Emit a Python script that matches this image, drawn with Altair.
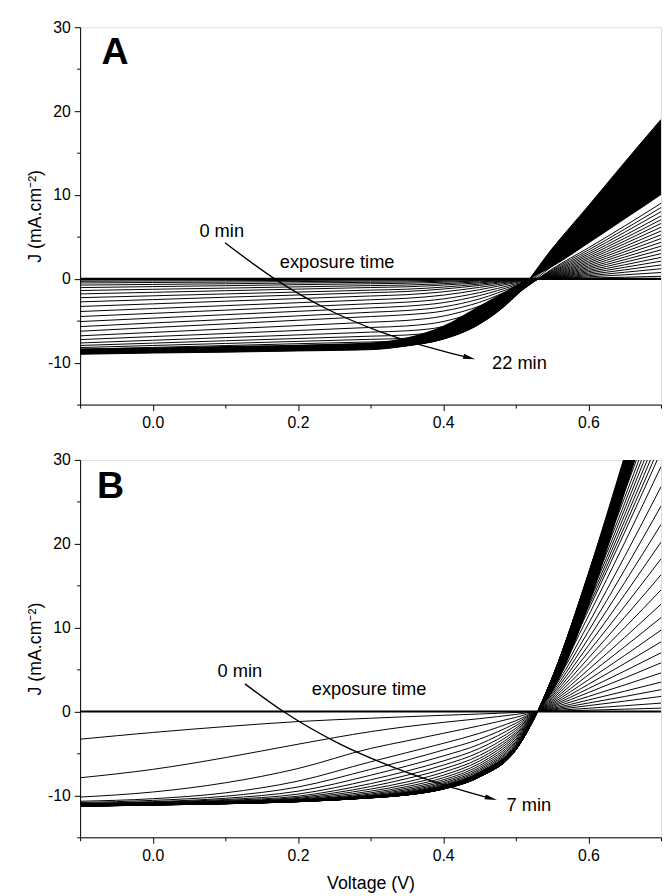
import altair as alt
import pandas as pd

FONT = "Liberation Sans"

# ---------------- Panel A (0 ... 22 min), curve 0 = 0 min, last = 22 min
A_V = [-0.1, 0.0, 0.1, 0.2, 0.3, 0.35, 0.4, 0.45, 0.5, 0.55, 0.6, 0.65, 0.7]
A_J_m010 = [0, -0.15, -0.3, -0.5, -0.75, -1.05, -1.4, -1.8, -2.25, -2.75, -3.3, -3.9, -4.5, -5.1, -5.7, -6.25, -6.8, -7.25, -7.65, -7.95, -8.2, -8.4, -8.55, -8.68, -8.78, -8.86, -8.93, -9.0]
A_J_000 = [0, -0.13, -0.26, -0.44, -0.67, -0.93, -1.25, -1.61, -2.03, -2.48, -2.99, -3.55, -4.12, -4.69, -5.27, -5.81, -6.39, -6.89, -7.33, -7.67, -7.95, -8.18, -8.35, -8.51, -8.62, -8.71, -8.79, -8.85]
A_J_010 = [0, -0.11, -0.23, -0.39, -0.59, -0.82, -1.11, -1.42, -1.80, -2.2, -2.67, -3.2, -3.74, -4.28, -4.85, -5.38, -5.98, -6.53, -7.01, -7.39, -7.71, -7.96, -8.16, -8.33, -8.46, -8.56, -8.64, -8.75]
A_J_020 = [0, -0.10, -0.19, -0.33, -0.50, -0.70, -0.96, -1.23, -1.58, -1.93, -2.36, -2.85, -3.35, -3.88, -4.42, -4.94, -5.58, -6.16, -6.69, -7.12, -7.46, -7.74, -7.96, -8.16, -8.31, -8.41, -8.5, -8.6]
A_J_030 = [0, -0.08, -0.16, -0.27, -0.42, -0.59, -0.81, -1.04, -1.35, -1.65, -2.05, -2.5, -2.97, -3.47, -3.99, -4.5, -5.17, -5.8, -6.36, -6.84, -7.22, -7.53, -7.76, -7.99, -8.15, -8.26, -8.36, -8.45]
A_J_035 = [0, -0.07, -0.14, -0.24, -0.38, -0.53, -0.74, -0.95, -1.24, -1.51, -1.89, -2.32, -2.78, -3.26, -3.78, -4.28, -4.96, -5.62, -6.2, -6.7, -7.09, -7.42, -7.66, -7.8, -7.9, -7.95, -7.98, -8.0]
A_J_040 = [0, -0.05, -0.10, -0.18, -0.29, -0.41, -0.58, -0.75, -0.99, -1.22, -1.55, -1.95, -2.4, -2.85, -3.35, -3.85, -4.45, -5.1, -5.7, -6.2, -6.55, -6.8, -6.95, -7.05, -7.1, -7.15, -7.18, -7.2]
A_J_045 = [0, -0.03, -0.06, -0.11, -0.18, -0.26, -0.37, -0.48, -0.63, -0.79, -1.02, -1.3, -1.65, -2.0, -2.4, -2.8, -3.25, -3.75, -4.2, -4.55, -4.8, -5.0, -5.1, -5.2, -5.3, -5.35, -5.38, -5.4]
A_J_050 = [0, -0.01, -0.02, -0.04, -0.06, -0.09, -0.12, -0.16, -0.21, -0.27, -0.35, -0.45, -0.6, -0.75, -0.9, -1.05, -1.25, -1.45, -1.65, -1.8, -1.9, -1.95, -1.98, -2.0, -2.0, -2.0, -2.0, -2.0]
A_J_055 = [0, 0.01, 0.03, 0.05, 0.08, 0.11, 0.14, 0.19, 0.23, 0.28, 0.34, 0.4, 0.46, 0.53, 0.6, 0.69, 0.77, 0.86, 0.95, 1.06, 1.17, 1.5, 1.9, 2.3, 2.7, 3.0, 3.3, 3.6]
A_J_060 = [0, 0.09, 0.23, 0.37, 0.52, 0.68, 0.84, 1.0, 1.18, 1.35, 1.53, 1.72, 1.91, 2.1, 2.31, 2.51, 2.73, 2.95, 3.18, 3.43, 3.69, 4.4, 5.2, 6.0, 6.8, 7.6, 8.2, 8.7]
A_J_065 = [0, 0.19, 0.48, 0.78, 1.07, 1.37, 1.67, 1.98, 2.28, 2.59, 2.91, 3.22, 3.54, 3.86, 4.19, 4.51, 4.84, 5.18, 5.55, 5.92, 6.3, 7.4, 8.5, 9.7, 10.9, 12.0, 13.0, 13.9]
A_J_070 = [0, 0.3, 0.75, 1.2, 1.65, 2.1, 2.55, 3.0, 3.45, 3.9, 4.35, 4.8, 5.25, 5.7, 6.15, 6.6, 7.05, 7.5, 8.0, 8.5, 9.0, 10.5, 12.0, 13.5, 15.0, 16.5, 17.8, 19.0]
A_COLS = [A_J_m010, A_J_000, A_J_010, A_J_020, A_J_030, A_J_035, A_J_040,
          A_J_045, A_J_050, A_J_055, A_J_060, A_J_065, A_J_070]
# upper edge of the solid black region where the late curves pile up (read at A_V)
A_SOLID_EDGE = [-8.3, -8.2, -8.0, -7.85, -7.6, -7.0, -5.6, -3.2, -0.8, 1.4, 4.2, 7.1, 10.0]

# ---------------- Panel B (0 ... 7 min)
B_V = [-0.1, 0.0, 0.1, 0.2, 0.3, 0.35, 0.4, 0.45, 0.5, 0.53, 0.55, 0.6, 0.65, 0.7]
B_J_m010 = [0, -3.3, -7.9, -10.2, -10.7, -10.85, -10.95, -11.0, -11.04, -11.07, -11.1, -11.12, -11.14, -11.16, -11.18, -11.19, -11.2, -11.21, -11.22, -11.23, -11.24, -11.25, -11.25, -11.26, -11.26, -11.27, -11.27, -11.28, -11.28, -11.28, -11.29, -11.29, -11.29, -11.3, -11.3, -11.3]
B_J_000 = [0, -2.5, -6.9, -9.6, -10.4, -10.6, -10.75, -10.82, -10.88, -10.92, -10.95, -10.98, -11.0, -11.02, -11.04, -11.05, -11.06, -11.07, -11.08, -11.09, -11.1, -11.1, -11.11, -11.11, -11.12, -11.12, -11.12, -11.13, -11.13, -11.13, -11.14, -11.14, -11.14, -11.15, -11.15, -11.15]
B_J_010 = [0, -1.8, -5.5, -8.5, -9.7, -10.1, -10.35, -10.5, -10.6, -10.68, -10.74, -10.79, -10.83, -10.86, -10.88, -10.9, -10.91, -10.92, -10.93, -10.94, -10.95, -10.95, -10.96, -10.96, -10.97, -10.97, -10.97, -10.98, -10.98, -10.98, -10.99, -10.99, -10.99, -11.0, -11.0, -11.0]
B_J_020 = [0, -1.2, -3.9, -6.8, -8.3, -9.0, -9.5, -9.85, -10.1, -10.25, -10.36, -10.45, -10.52, -10.57, -10.61, -10.64, -10.66, -10.68, -10.69, -10.7, -10.71, -10.71, -10.72, -10.72, -10.72, -10.73, -10.73, -10.73, -10.74, -10.74, -10.74, -10.74, -10.75, -10.75, -10.75, -10.75]
B_J_030 = [0, -0.8, -2.4, -4.4, -6.0, -6.9, -7.6, -8.15, -8.6, -8.95, -9.25, -9.5, -9.7, -9.85, -9.97, -10.06, -10.12, -10.16, -10.19, -10.21, -10.23, -10.24, -10.25, -10.26, -10.26, -10.27, -10.27, -10.28, -10.28, -10.28, -10.29, -10.29, -10.29, -10.3, -10.3, -10.3]
B_J_035 = [0, -0.62, -1.8, -3.5, -4.9, -5.8, -6.5, -7.1, -7.6, -8.0, -8.4, -8.7, -8.95, -9.15, -9.32, -9.46, -9.57, -9.66, -9.73, -9.78, -9.82, -9.85, -9.87, -9.89, -9.9, -9.91, -9.92, -9.93, -9.93, -9.94, -9.94, -9.94, -9.95, -9.95, -9.95, -9.95]
B_J_040 = [0, -0.45, -1.3, -2.6, -3.8, -4.6, -5.3, -5.9, -6.4, -6.85, -7.25, -7.6, -7.9, -8.15, -8.35, -8.52, -8.66, -8.78, -8.88, -8.96, -9.03, -9.08, -9.12, -9.15, -9.17, -9.19, -9.2, -9.21, -9.22, -9.23, -9.23, -9.24, -9.24, -9.25, -9.25, -9.25]
B_J_045 = [0, -0.3, -0.85, -1.7, -2.6, -3.3, -3.9, -4.4, -4.85, -5.25, -5.6, -5.9, -6.2, -6.45, -6.68, -6.88, -7.05, -7.2, -7.32, -7.42, -7.5, -7.56, -7.61, -7.65, -7.68, -7.71, -7.73, -7.75, -7.76, -7.77, -7.78, -7.78, -7.79, -7.79, -7.8, -7.8]
B_J_050 = [0, -0.12, -0.35, -0.7, -1.1, -1.4, -1.7, -2.0, -2.25, -2.5, -2.7, -2.9, -3.1, -3.3, -3.48, -3.65, -3.8, -3.93, -4.05, -4.15, -4.24, -4.31, -4.37, -4.42, -4.46, -4.49, -4.52, -4.54, -4.56, -4.57, -4.58, -4.59, -4.59, -4.6, -4.6, -4.6]
B_J_053 = [0, 0, 0, 0, 0, 0, 0, 0, 0, 0, 0, 0, 0, 0, 0, 0, 0, 0, 0, 0, 0, 0, 0, 0, 0, 0, 0, 0, 0, 0, 0, 0, 0, 0, 0, 0]
B_J_055 = [0, 0.04, 0.1, 0.18, 0.26, 0.35, 0.46, 0.58, 0.7, 0.83, 0.97, 1.12, 1.28, 1.45, 1.63, 1.82, 2.02, 2.23, 2.45, 2.68, 2.92, 3.1, 3.2, 3.3, 3.4, 3.5, 3.6, 3.7, 3.8, 3.9, 4.0, 4.0, 4.0, 4.0, 4.0, 4.0]
B_J_060 = [0, 0.16, 0.39, 0.7, 1.01, 1.37, 1.79, 2.26, 2.73, 3.24, 3.78, 4.37, 4.99, 5.66, 6.36, 7.1, 7.88, 8.7, 9.56, 10.45, 11.39, 12.09, 12.48, 12.87, 13.26, 13.65, 14.04, 14.43, 14.82, 15.21, 15.6, 15.99, 16.2, 16.3, 16.4, 16.5]
B_J_065 = [0, 0.28, 0.69, 1.24, 1.79, 2.42, 3.17, 4.0, 4.83, 5.73, 6.69, 7.73, 8.83, 10.0, 11.25, 12.56, 13.94, 15.39, 16.9, 18.49, 20.15, 21.39, 22.08, 22.77, 23.46, 24.15, 24.84, 25.53, 26.22, 26.91, 27.6, 28.29, 28.98, 29.67, 30.1, 30.5]
B_J_070 = [0, 0.4, 1.0, 1.8, 2.6, 3.5, 4.6, 5.8, 7.0, 8.3, 9.7, 11.2, 12.8, 14.5, 16.3, 18.2, 20.2, 22.3, 24.5, 26.8, 29.2, 31.0, 32.0, 33.0, 34.0, 35.0, 36.0, 37.0, 38.0, 39.0, 40.0, 41.0, 42.0, 43.0, 44.0, 45.0]
B_COLS = [B_J_m010, B_J_000, B_J_010, B_J_020, B_J_030, B_J_035, B_J_040,
          B_J_045, B_J_050, B_J_053, B_J_055, B_J_060, B_J_065, B_J_070]
# upper/left edge of the solid black band along the 7 min curve (read at B_V)
B_SOLID_EDGE = [-10.95, -10.85, -10.7, -10.45, -10.0, -9.6, -8.8, -7.2, -4.1, 0.0, 2.3, 12.5, 26.0, 39.5]

# ---------------- annotations (data coordinates)
A_ARROW_V = [0.0995, 0.168, 0.24, 0.31, 0.37, 0.436]
A_ARROW_J = [4.3, 0.0, -3.6, -6.2, -7.9, -9.42]
B_ARROW_V = [0.127, 0.18, 0.256, 0.33, 0.392, 0.466]
B_ARROW_J = [3.3, 0.0, -3.8, -6.6, -8.5, -10.37]
A_TEXT = ["0 min", "exposure time", "22 min"]
A_TEXT_V = [0.095, 0.254, 0.505]
A_TEXT_J = [5.7, 2.0, -10.1]
B_TEXT = ["0 min", "exposure time", "7 min"]
B_TEXT_V = [0.12, 0.298, 0.518]
B_TEXT_J = [4.86, 2.7, -11.2]
A_LETTER = ("A", -0.052, 26.9)
B_LETTER = ("B", -0.058, 26.8)

X_TICKS = [-0.1, 0.0, 0.1, 0.2, 0.3, 0.4, 0.5, 0.6, 0.7]
Y_TICKS = [-15, -10, -5, 0, 5, 10, 15, 20, 25, 30]
Y_TITLE = "J (mA.cm\u207b\u00b2)"


def long_frame(vs, cols):
    rows = []
    for v, col in zip(vs, cols):
        for k, j in enumerate(col):
            rows.append({"V": v, "J": j, "curve": k})
    return pd.DataFrame(rows)


def encodings(xtitle):
    xaxis = alt.Axis(
        values=X_TICKS,
        labelExpr="abs(round(datum.value*10)) % 2 == 0 ? format(datum.value, '.1f') : ''",
        tickSize={"condition": {"test": "abs(round(datum.value*10)) % 2 == 0", "value": 6}, "value": 3.5},
        grid=False, domainColor="black", tickColor="black", labelColor="black",
        labelFont=FONT, labelFontSize=16, labelPadding=4, labelOverlap=False,
        titleFont=FONT, titleFontSize=18, titleFontWeight="normal", titleColor="black",
        titlePadding=12,
    )
    yaxis = alt.Axis(
        values=Y_TICKS,
        labelExpr="abs(datum.value) % 10 == 0 ? '' + datum.value : ''",
        tickSize={"condition": {"test": "abs(datum.value) % 10 == 0", "value": 6}, "value": 3.5},
        grid=False, domainColor="black", tickColor="black", labelColor="black",
        labelFont=FONT, labelFontSize=16, labelPadding=4, labelOverlap=False,
        titleFont=FONT, titleFontSize=18, titleFontWeight="normal", titleColor="black",
        titlePadding=3,
    )
    x = alt.X("V:Q", scale=alt.Scale(domain=[-0.1, 0.7], nice=False, zero=False),
              axis=xaxis, title=xtitle)
    y = alt.Y("J:Q", scale=alt.Scale(domain=[-15, 30], nice=False, zero=False),
              axis=yaxis, title=Y_TITLE)
    return x, y


def panel(vs, cols, solid_edge, arrow_v, arrow_j, texts, tv, tj, letter, head_angle, xtitle):
    x, y = encodings(xtitle)
    df = long_frame(vs, cols)
    last = len(cols[0]) - 1
    area_df = pd.DataFrame({"V": vs, "J": solid_edge, "J2": [c[last] for c in cols]})
    area = alt.Chart(area_df).mark_area(
        interpolate="monotone", clip=True, color="black", opacity=1
    ).encode(x=x, y=y, y2="J2:Q")
    curves = alt.Chart(df[df["curve"] > 0]).mark_line(
        interpolate="monotone", clip=True, color="black", strokeWidth=1.0
    ).encode(x=x, y=y, detail="curve:N")
    zero = alt.Chart(df[df["curve"] == 0]).mark_line(
        interpolate="monotone", clip=True, color="black", strokeWidth=2.2
    ).encode(x=x, y=y)
    arrow_df = pd.DataFrame({"V": arrow_v, "J": arrow_j})
    arrow = alt.Chart(arrow_df).mark_line(
        interpolate="monotone", color="black", strokeWidth=1.4
    ).encode(x=x, y=y)
    head = alt.Chart(arrow_df.tail(1)).mark_point(
        shape="M -1 -0.42 L 1 0 L -1 0.42 Z", filled=True, color="black",
        opacity=1, size=150, angle=head_angle
    ).encode(x=x, y=y)
    text_df = pd.DataFrame({"V": tv, "J": tj, "label": texts})
    txt = alt.Chart(text_df).mark_text(
        font=FONT, fontSize=18.5, color="black", align="center", baseline="middle"
    ).encode(x=x, y=y, text="label:N")
    let_df = pd.DataFrame({"V": [letter[1]], "J": [letter[2]], "label": [letter[0]]})
    let = alt.Chart(let_df).mark_text(
        font=FONT, fontSize=38, fontWeight="bold", color="black",
        align="center", baseline="middle"
    ).encode(x=x, y=y, text="label:N")
    return alt.layer(area, curves, zero, arrow, head, txt, let).properties(width=588, height=382)


top = panel(A_V, A_COLS, A_SOLID_EDGE, A_ARROW_V, A_ARROW_J, A_TEXT, A_TEXT_V, A_TEXT_J,
            A_LETTER, 15, None)
bottom = panel(B_V, B_COLS, B_SOLID_EDGE, B_ARROW_V, B_ARROW_J, B_TEXT, B_TEXT_V, B_TEXT_J,
               B_LETTER, 15, "Voltage (V)")

chart = alt.vconcat(top, bottom, spacing=20).properties(
    padding={"left": 18, "top": 5, "right": 0, "bottom": 0},
    background="white",
).configure_view(strokeWidth=0).configure(font=FONT)

chart.save("out.html", embed_options={"renderer": "svg", "actions": False})
